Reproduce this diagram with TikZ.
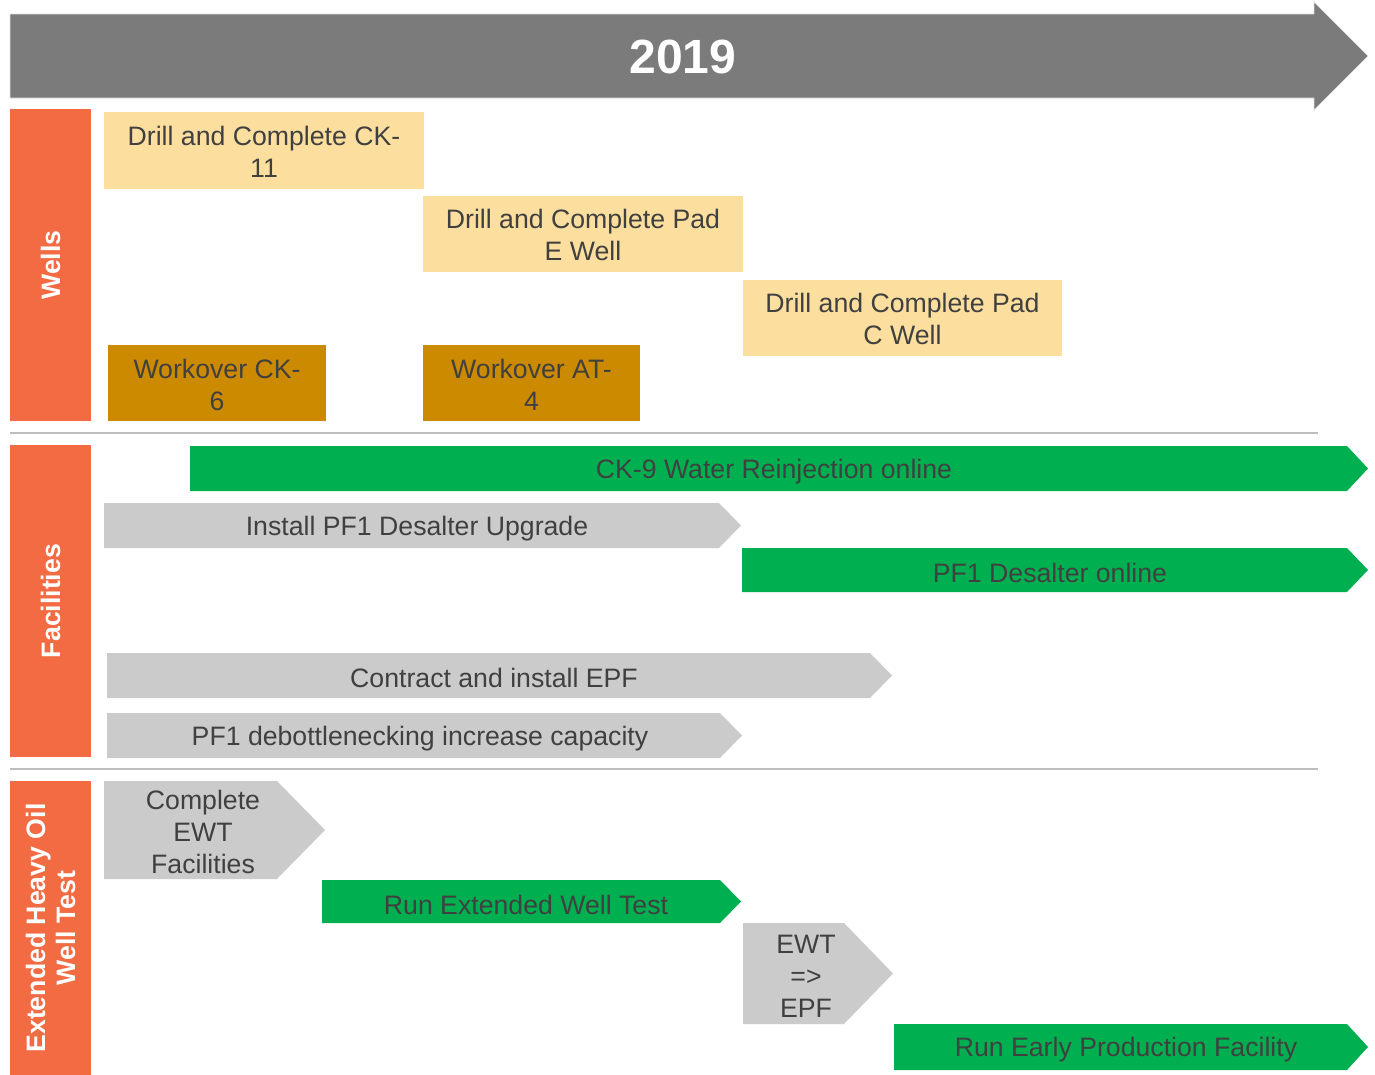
\documentclass[tikz,border=0pt]{standalone}
\usepackage{fontspec}
\setmainfont{Liberation Sans}
\usetikzlibrary{positioning}

\definecolor{sidebar}{HTML}{F26B43}
\definecolor{wellfill}{HTML}{FCDF9E}
\definecolor{workfill}{HTML}{CC8A00}
\definecolor{donefill}{HTML}{00B050}
\definecolor{stepfill}{HTML}{CBCBCB}
\definecolor{yearfill}{HTML}{7B7B7B}
\definecolor{sepline}{HTML}{BFBFBF}
\definecolor{tasktext}{HTML}{404040}

\begin{document}
\begin{tikzpicture}[x=0.75pt,y=-0.75pt,
  tasklabel/.style={text=tasktext,align=center,font=\fontsize{20}{24}\selectfont},
  lane/.style={text=white,align=center,rotate=90,font=\bfseries\fontsize{20}{22.5}\selectfont},
  laneline/.style={draw=sepline,line width=1.5pt}]
  \useasboundingbox (0,0) rectangle (1375,1075);

  % year arrow
  \fill[yearfill,draw=gray!25] (10,14) -- (1314,14) -- (1314,2) -- (1368,56)
    -- (1314,110) -- (1314,98) -- (10,98) -- cycle;
  \node[text=white,font=\bfseries\fontsize{36}{40}\selectfont] (year) at (683,57) {2019};

  % lanes
  \fill[sidebar] (10,109) rectangle (91,421);
  \node[lane] (wells) at (50.5,265) {Wells};
  \fill[sidebar] (10,445) rectangle (91,757);
  \node[lane] (facilities) at (50.5,601) {Facilities};
  \fill[sidebar] (10,781) rectangle (91,1075);
  \node[lane] (ewt) at (50.5,928) {Extended Heavy Oil\\Well Test};
  \draw[laneline] (10,433) -- (1318,433);
  \draw[laneline] (10,769) -- (1318,769);

  % wells
  \fill[wellfill] (104,112) rectangle (424,189);
  \node[tasklabel] (ck11) at (264,151.5) {Drill and Complete CK-\\11};
  \fill[wellfill] (423,196) rectangle (743,272);
  \node[tasklabel] (padE) at (583,235) {Drill and Complete Pad\\E Well};
  \fill[wellfill] (743,280) rectangle (1062,356);
  \node[tasklabel] (padC) at (902.5,319) {Drill and Complete Pad\\C Well};
  \fill[workfill] (108,345) rectangle (326,421);
  \node[tasklabel] (ck6) at (217,384.5) {Workover CK-\\6};
  \fill[workfill] (423,345) rectangle (640,421);
  \node[tasklabel] (at4) at (531.5,384.5) {Workover AT-\\4};

  % facilities
  \fill[donefill] (190,446) -- (1347,446) -- (1368,468.5) -- (1347,491) -- (190,491) -- cycle;
  \node[tasklabel] (ck9) at (774,471.5) {CK-9 Water Reinjection online};
  \fill[stepfill] (104,503) -- (719,503) -- (741,525.5) -- (719,548) -- (104,548) -- cycle;
  \node[tasklabel] (desalter) at (417,528.5) {Install PF1 Desalter Upgrade};
  \fill[donefill] (742,548) -- (1347,548) -- (1368,570) -- (1347,592) -- (742,592) -- cycle;
  \node[tasklabel] (desalteron) at (1050,573) {PF1 Desalter online};
  \fill[stepfill] (107,653) -- (870,653) -- (892,675.5) -- (870,698) -- (107,698) -- cycle;
  \node[tasklabel] (epf) at (494,678) {Contract and install EPF};
  \fill[stepfill] (107,713) -- (720,713) -- (742,735.5) -- (720,758) -- (107,758) -- cycle;
  \node[tasklabel] (debottle) at (420,738.5) {PF1 debottlenecking increase capacity};

  % extended well test
  \fill[stepfill] (104,781) -- (277,781) -- (325,830) -- (277,879) -- (104,879) -- cycle;
  \node[tasklabel] (ewtfac) at (203,832) {Complete\\EWT\\Facilities};
  \fill[donefill] (322,880) -- (720,880) -- (741,901.5) -- (720,923) -- (322,923) -- cycle;
  \node[tasklabel] (runewt) at (526,904.5) {Run Extended Well Test};
  \fill[stepfill] (743,923) -- (844,923) -- (893,973.5) -- (844,1024) -- (743,1024) -- cycle;
  \node[tasklabel] (switch) at (806,976) {EWT\\=>\\EPF};
  \fill[donefill] (894,1024) -- (1347,1024) -- (1368,1047) -- (1347,1070) -- (894,1070) -- cycle;
  \node[tasklabel] (runepf) at (1126,1050) {Run Early Production Facility};
\end{tikzpicture}
\end{document}
